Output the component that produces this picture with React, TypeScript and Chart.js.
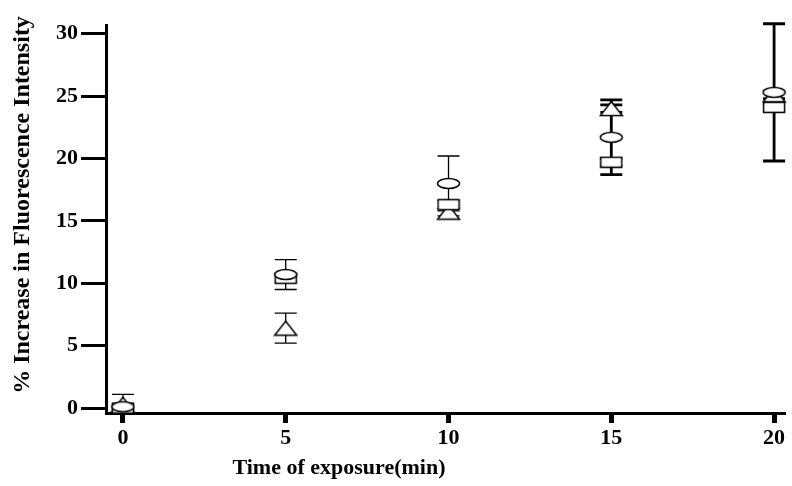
import { useEffect, useRef } from "react";
import { Chart, registerables } from "chart.js";

Chart.register(...registerables);

// ---- data ----
const times = [0, 5, 10, 15, 20];
const ellipseSeries = [0.1, 10.7, 18.0, 21.7, 25.3];
const ellipseErr = [0.2, 1.2, 2.2, 3.0, 5.5];
const squareSeries = [0.0, 10.4, 16.3, 19.7, 24.1];
const squareErr = [0.2, 0.3, 0.3, 0.3, 0.3];
const triangleSeries = [0.3, 6.4, 15.7, 24.0, 25.1];
const triangleErr = [0.8, 1.2, 0.3, 0.3, 0.3];
const xTickValues = [0, 5, 10, 15, 20];
const yTickValues = [0, 5, 10, 15, 20, 25, 30];
const xTitle = "Time of exposure(min)";
const yTitle = "% Increase in Fluorescence Intensity";

// ---- styles ----
const FONT = '"Liberation Serif", "Times New Roman", serif';
const errLineWidths = [1.3, 1.3, 1.3, 2.8, 2.8];
const CAP_HALF = 11;

function makeMarker(kind: string, w: number, h: number): HTMLCanvasElement {
  const c = document.createElement("canvas");
  c.width = w + 3;
  c.height = h + 3;
  const ctx = c.getContext("2d")!;
  ctx.lineWidth = 1.5;
  ctx.strokeStyle = "#000";
  ctx.fillStyle = "#fff";
  const cx = c.width / 2;
  const cy = c.height / 2;
  ctx.beginPath();
  if (kind === "ellipse") {
    ctx.ellipse(cx, cy, w / 2, h / 2, 0, 0, Math.PI * 2);
  } else if (kind === "rect") {
    ctx.rect(1.5, 1.5, w, h);
  } else {
    ctx.moveTo(cx, 1.5);
    ctx.lineTo(w + 1.5, h + 1.5);
    ctx.lineTo(1.5, h + 1.5);
    ctx.closePath();
  }
  ctx.fill();
  ctx.stroke();
  return c;
}

export default function App() {
  const ref = useRef<HTMLCanvasElement | null>(null);

  useEffect(() => {
    document.body.style.margin = "0";
    const canvas = ref.current;
    if (!canvas) return;

    const errorSets = [ellipseErr, squareErr, triangleErr];

    const errorBarPlugin = {
      id: "errorBars",
      beforeDatasetsDraw(chart: any) {
        const { ctx } = chart;
        const xs = chart.scales.x;
        const ys = chart.scales.y;
        ctx.save();
        ctx.strokeStyle = "#000";
        chart.data.datasets.forEach((ds: any, di: number) => {
          const errs = errorSets[di];
          ds.data.forEach((p: any, i: number) => {
            const e = errs[i];
            if (!e) return;
            const x = xs.getPixelForValue(p.x);
            const yt = ys.getPixelForValue(p.y + e);
            const yb = ys.getPixelForValue(p.y - e);
            ctx.lineWidth = errLineWidths[i];
            ctx.beginPath();
            ctx.moveTo(x, yt);
            ctx.lineTo(x, yb);
            ctx.moveTo(x - CAP_HALF, yt);
            ctx.lineTo(x + CAP_HALF, yt);
            ctx.moveTo(x - CAP_HALF, yb);
            ctx.lineTo(x + CAP_HALF, yb);
            ctx.stroke();
          });
        });
        ctx.restore();
      },
    };

    const axisTitlePlugin = {
      id: "axisTitles",
      afterDraw(chart: any) {
        const { ctx, chartArea } = chart;
        ctx.save();
        ctx.fillStyle = "#000";
        ctx.textAlign = "center";
        ctx.textBaseline = "middle";
        ctx.font = `bold 22px ${FONT}`;
        ctx.fillText(xTitle, chartArea.left + 233, chartArea.bottom + 55);
        ctx.font = `bold 24px ${FONT}`;
        ctx.translate(23, chartArea.top + 180);
        ctx.rotate(-Math.PI / 2);
        ctx.fillText(yTitle, 0, 0);
        ctx.restore();
      },
    };

    const toPoints = (vals: number[]) => times.map((t, i) => ({ x: t, y: vals[i] }));

    const common = {
      showLine: false,
      pointRadius: 6,
      pointHoverRadius: 6,
      clip: false as any,
    };

    const chart = new Chart(canvas, {
      type: "scatter",
      data: {
        datasets: [
          { ...common, label: "ellipse", data: toPoints(ellipseSeries), pointStyle: makeMarker("ellipse", 22, 10) as any },
          { ...common, label: "square", data: toPoints(squareSeries), pointStyle: makeMarker("rect", 21, 10) as any },
          { ...common, label: "triangle", data: toPoints(triangleSeries), pointStyle: makeMarker("triangle", 22, 14) as any },
        ],
      },
      options: {
        responsive: false,
        animation: false,
        events: [],
        layout: { padding: { top: 25, right: 2, left: 0, bottom: 0 } },
        plugins: {
          legend: { display: false },
          tooltip: { enabled: false },
          title: { display: false },
        },
        scales: {
          x: {
            type: "linear",
            min: -0.52,
            max: 20.335,
            afterBuildTicks: (s: any) => {
              s.ticks = xTickValues.map((v) => ({ value: v }));
            },
            afterFit: (s: any) => {
              s.height = 73;
            },
            grid: {
              drawOnChartArea: false,
              drawTicks: true,
              tickLength: 10,
              tickWidth: 5,
              tickColor: "#000",
            },
            border: { display: true, color: "#000", width: 3 },
            ticks: {
              color: "#000",
              font: { family: FONT, size: 22, weight: "bold" },
              padding: 2,
              maxRotation: 0,
              autoSkip: false,
            },
          },
          y: {
            type: "linear",
            min: -0.4,
            max: 30.7,
            afterBuildTicks: (s: any) => {
              s.ticks = yTickValues.map((v) => ({ value: v }));
            },
            afterFit: (s: any) => {
              s.width = 106;
            },
            grid: {
              drawOnChartArea: false,
              drawTicks: true,
              tickLength: 25,
              tickWidth: 3,
              tickColor: "#000",
            },
            border: { display: true, color: "#000", width: 3 },
            ticks: {
              color: "#000",
              font: { family: FONT, size: 22, weight: "bold" },
              padding: 3,
              autoSkip: false,
            },
          },
        },
      } as any,
      plugins: [errorBarPlugin, axisTitlePlugin],
    });

    return () => {
      chart.destroy();
    };
  }, []);

  return (
    <div style={{ width: 792, height: 486 }}>
      <canvas ref={ref} width={792} height={486} style={{ display: "block" }} />
    </div>
  );
}
